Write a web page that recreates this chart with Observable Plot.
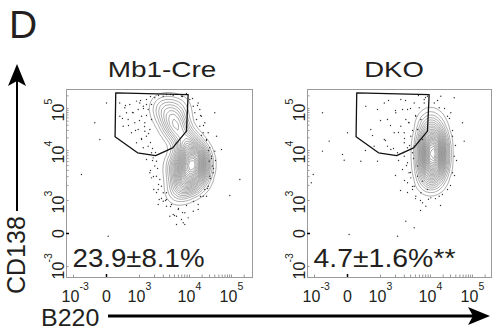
<!DOCTYPE html>
<html><head><meta charset="utf-8">
<script src="https://cdn.jsdelivr.net/npm/d3@7"></script>
<script src="https://cdn.jsdelivr.net/npm/@observablehq/plot@0.6"></script>
<style>
html,body{margin:0;padding:0;background:#fff;}
#fig{position:relative;width:492px;height:333px;overflow:hidden;font-family:"Liberation Sans",Arial,sans-serif;}
#fig svg{position:absolute;top:0;}
</style></head><body><div id="fig"></div>
<script>
// ---------- data ----------
const panelTitles = ["Mb1-Cre", "DKO"];
const percentLabels = ["23.9±8.1%", "4.7±1.6%**"];
const tickValues = [-1000, 0, 1000, 10000, 100000];
const tickBase = ["10", "0", "10", "10", "10"];
const tickExp = ["-3", "", "3", "4", "5"];
const minorTicks = [2000,3000,4000,5000,6000,7000,8000,9000,20000,30000,40000,50000,60000,70000,80000,90000,200000];

// gate (same in both panels)
const gateB220 = [280, 9400, 8700, 4600, 2100, 940, 260];
const gateCD138 = [236000, 215000, 28800, 11600, 7900, 9000, 21200];

// Mb1-Cre population (density anchors)
const mb1PopB220 = [2630, 4170, 6607, 3467, 5495, 4571, 6310, 7586, 9550, 13150, 11800, 10560, 9120, 7586, 6026, 6918, 6026, 16400, 15500, 13150];
const mb1PopCD138 = [111600, 111600, 111600, 64500, 57800, 37300, 29940, 19300, 13150, 10000, 6918, 4786, 3162, 2089, 1380, 6310, 3981, 6310, 3631, 2188];
const mb1PopWeight = [1, 1, 0.7, 1.2, 1.5, 1.5, 1.8, 1.5, 2, 2.5, 3, 3.5, 3, 2.5, 1.2, 2, 2, 3, 3, 2];

// DKO population (density anchors)
const dkoPopB220 = [10000, 10560, 11160, 11160, 11160, 11160, 10560, 10000, 8710, 14700, 8710, 14700];
const dkoPopCD138 = [57800, 33400, 19300, 11160, 6918, 4571, 3020, 2089, 13150, 13150, 5754, 5754];
const dkoPopWeight = [1, 2, 3, 4, 4, 3, 2, 1, 1.5, 1.5, 1.5, 1.5];

// Mb1-Cre events outside the dense core
const mb1DotsB220 = [400,555,706,809,909,960,1100,1190,1280,858,657,505,758,960,1100,1380,1490,1190,909,1610,1740,1380,2020,2980,4720,6920,10160,12300,13400,14700,17600,21200,25400,30400,33400,34800,30400,27900,21200,16100,12300,8060,5940,4370,3470,2980,2750,2190,2020,1880,1740,2190,1610,1930,2480,3470,4720,6920,3470,1380,1740,2370,7480,5500,4040,25400,36700,40000,16100,19300,23200,44000,0,-355,-758,51,158000,91000,57800,40000,-202,8060,9400,1490,1740,1010,606,404,1280,2550,2370,2980,5500,16100,23200,29400,27900,17600,8710,3470,
  1047,1202,1380,1000,1259,1514,1096,1660,1380,1820,576,788,667,879,485,1660,2399,4170,7244,11800,15500,18300,21550,19300,25400,28300,33400,37300,31600,26830,41600,18300,12460,8710,6026,4170,3311,7244,5012,2089,1820,2291,1905,2399,2188,2754,1660];
const mb1DotsCD138 = [135000,104000,124500,79000,150000,95000,65500,113000,45600,45600,54700,37900,26400,31600,18300,21900,12700,11600,15300,31600,54700,164000,180000,196000,204000,196000,164000,113000,79000,54700,37900,26400,18300,11600,7700,4900,3060,1930,1220,879,676,627,727,879,1047,1426,1930,3060,4900,7130,9000,6100,3580,1660,1047,828,576,424,1426,6600,2840,879,324,273,524,1220,3580,9700,135000,65500,45600,21900,135000,45600,3310,-82,2630,1260,10600,79000,18300,273,475,95000,124500,135000,79000,65500,28700,2630,1660,979,524,727,1660,6100,26400,95000,227000,215000,
  155000,100000,68000,51800,37300,25400,19300,15500,124500,11160,118000,80300,39300,29940,57800,193000,204000,215000,193000,173000,118000,68000,39300,22700,17300,10000,6918,4365,2754,1738,6310,1202,970,848,758,818,1000,636,545,9120,6310,4365,3020,2089,1445,1096,3981];

// DKO events outside the dense core
const dkoDotsB220 = [-758,0,-555,-758,-152,-100,404,909,-1060,-1160,51,2190,3210,4720,63500,57800,36700,17600,12300,30400,555,706,909,1380,1190,1880,2020,2550,2980,3470,3730,4040,4370,4720,5080,5500,3470,3730,3470,4370,5080,6920,8060,10160,16100,25400,33400,36700,33400,25400,16100,7480,5940,6430,6920,2980,2750,4040,6430,8710,1610,2190,1190,2550,809,1380,6920,5500,2980,8710,3210,4720,3470,2750,7480,5500,4720,
  3162,3981,5012,3631,4365,3020,3802,2884,4571,3311,3981,3020,4365,3467,5012,6310,9120,13150,19300,29940,37300,41600,39300,33400,28300,21550,14700,7943,5754,1995,1585,2291,1259,1820,1445,1000,758,545,2291,1995,2512,6310,17300];
const dkoDotsCD138 = [79000,26400,16700,9700,8320,6400,6100,6100,3310,2260,-30,-82,373,173,16700,45600,180000,196000,135000,79000,113000,31600,95000,54700,18300,26400,79000,37900,15300,95000,45600,21900,9000,135000,65500,31600,5680,3580,2260,1660,1220,930,828,1130,1220,1660,3580,7700,21900,65500,104000,164000,104000,54700,18300,7700,4170,2840,1426,1660,10600,9000,135000,164000,12700,12700,2440,4900,26400,196000,54700,12700,11600,95000,135000,3060,1930,
  155000,100000,68000,46400,29940,19300,13150,9120,6918,5012,3631,2512,1905,1445,1091,1000,1061,1091,1318,1995,3162,6310,13150,29940,57800,100000,155000,183000,204000,89600,39300,26830,17300,11160,155000,51800,22700,10000,6310,3162,1585,697,848];

// ---------- biexponential-like display transform ----------
function biex(v){
  const a = Math.abs(v); let u;
  if (a <= 1000) u = 33 * a / 1000;
  else if (a <= 1e4) u = 33 + 50 * Math.log10(a / 1e3);
  else u = 83 + 42 * Math.log10(a / 1e4);
  return v < 0 ? -u : u;
}
const FONT = "'Liberation Sans', Arial, sans-serif";
const INK = "#231f20";

function panel({dotsX, dotsY, popX, popY, popW, pct, pctWidth, xmax, width, marginLeft, marginRight}){
  const dots = dotsX.map((x,i)=>({x, y: dotsY[i]}));
  const pop = popX.map((x,i)=>({x, y: popY[i], w: popW[i]}));
  const gate = gateB220.map((x,i)=>({x, y: gateCD138[i]}));
  const ticks = tickValues.map((v,i)=>({v, base: tickBase[i], exp: tickExp[i]}));
  const tExp = ticks.filter(d=>d.exp);
  const tZero = ticks.filter(d=>!d.exp);
  const minors = minorTicks.concat(tickValues.filter(v=>v!==0)).map(v=>({v}));
  const X = d=>biex(d.x), Y = d=>biex(d.y);
  const svg = Plot.plot({
    width, height: 333, marginLeft, marginRight, marginTop: 89, marginBottom: 56,
    x: {domain: [-40, xmax], axis: null},
    y: {domain: [-44, 144], axis: null},
    style: {fontFamily: FONT, color: INK, background: "transparent", overflow: "visible"},
    marks: [
      Plot.density(pop, {x: X, y: Y, weight: "w", bandwidth: 6, thresholds: 25, stroke: "#777", strokeWidth: 0.6}),
      Plot.dot(dots, {x: X, y: Y, r: 0.7, fill: "#333", stroke: null}),
      Plot.line(gate, {x: X, y: Y, curve: "linear-closed", stroke: "#111", strokeWidth: 1.3}),
      Plot.frame({stroke: "#9a9a9a"}),
      Plot.ruleX(minors, {x: d=>biex(d.v), y1: -44, y2: -41.5, stroke: "#999"}),
      Plot.ruleY(minors, {y: d=>biex(d.v), x1: -40, x2: -37.5, stroke: "#999"}),
      Plot.ruleX(tZero, {x: d=>biex(d.v), y1: -44, y2: -41, stroke: "#000", strokeWidth: 1.5}),
      Plot.ruleY(tZero, {y: d=>biex(d.v), x1: -40, x2: -37, stroke: "#000", strokeWidth: 1.5}),
      // x tick labels
      Plot.text(tExp, {x: d=>biex(d.v), text: "base", frameAnchor: "bottom", lineAnchor: "bottom", textAnchor: "middle", dy: 24, dx: -3, fontSize: 16, fill: INK}),
      Plot.text(tExp, {x: d=>biex(d.v), text: "exp", frameAnchor: "bottom", lineAnchor: "bottom", textAnchor: "start", dy: 12, dx: 6, fontSize: 10.5, fill: INK}),
      Plot.text(tZero, {x: d=>biex(d.v), text: "base", frameAnchor: "bottom", lineAnchor: "bottom", textAnchor: "middle", dy: 24, fontSize: 16, fill: INK}),
      // y tick labels (rotated)
      Plot.text(tExp, {y: d=>biex(d.v), text: "base", frameAnchor: "left", lineAnchor: "bottom", textAnchor: "middle", rotate: -90, dx: -3, dy: 4, fontSize: 16, fill: INK}),
      Plot.text(tExp, {y: d=>biex(d.v), text: "exp", frameAnchor: "left", lineAnchor: "bottom", textAnchor: "start", rotate: -90, dx: -14.5, dy: -4, fontSize: 10.5, fill: INK}),
      Plot.text(tZero, {y: d=>biex(d.v), text: "base", frameAnchor: "left", lineAnchor: "bottom", textAnchor: "middle", rotate: -90, dx: -3, fontSize: 16, fill: INK}),
      // percentage
      Plot.text([pct], {text: d=>d, frameAnchor: "bottom-left", lineAnchor: "bottom", textAnchor: "start", dx: 6, dy: -11, fontSize: 26, fill: INK})
    ]
  });
  svg.querySelectorAll("text").forEach(t => {
    if (t.textContent === pct) { t.setAttribute("textLength", pctWidth); t.setAttribute("lengthAdjust", "spacingAndGlyphs"); }
  });
  return svg;
}

const fig = document.getElementById("fig");
const p1 = panel({dotsX: mb1DotsB220, dotsY: mb1DotsCD138, popX: mb1PopB220, popY: mb1PopCD138, popW: mb1PopWeight,
  pct: percentLabels[0], pctWidth: 132, xmax: 146, width: 260, marginLeft: 66, marginRight: 8});
p1.style.left = "0px";
fig.appendChild(p1);
const p2 = panel({dotsX: dkoDotsB220, dotsY: dkoDotsCD138, popX: dkoPopB220, popY: dkoPopCD138, popW: dkoPopWeight,
  pct: percentLabels[1], pctWidth: 142, xmax: 144, width: 232, marginLeft: 47, marginRight: 1});
p2.style.left = "260px";
fig.appendChild(p2);

// annotations: panel letter, titles, axis names with arrows
const ns = "http://www.w3.org/2000/svg";
const ov = document.createElementNS(ns, "svg");
ov.setAttribute("width", 492); ov.setAttribute("height", 333);
ov.style.left = "0px"; ov.style.pointerEvents = "none";
ov.innerHTML = `
<g fill="${INK}" font-family="${FONT.replace(/'/g,"")}">
  <text x="9" y="38" font-size="39">D</text>
  <text transform="translate(162,77) scale(1.27,1)" text-anchor="middle" font-size="22">${panelTitles[0]}</text>
  <text transform="translate(394,77) scale(1.25,1)" text-anchor="middle" font-size="22">${panelTitles[1]}</text>
  <text transform="translate(25,294) rotate(-90)" font-size="25">CD138</text>
  <text transform="translate(41,326) scale(1.04,1)" font-size="24">B220</text>
</g>
<line x1="17" y1="211" x2="17" y2="80" stroke="#000" stroke-width="2"/>
<path d="M17,64 L8,86 L17,81 L26,86 Z" fill="#000"/>
<line x1="108" y1="316" x2="474" y2="316" stroke="#000" stroke-width="3"/>
<path d="M490,316 L468,307 L473,316 L468,325 Z" fill="#000"/>`;
fig.appendChild(ov);
</script></body></html>
